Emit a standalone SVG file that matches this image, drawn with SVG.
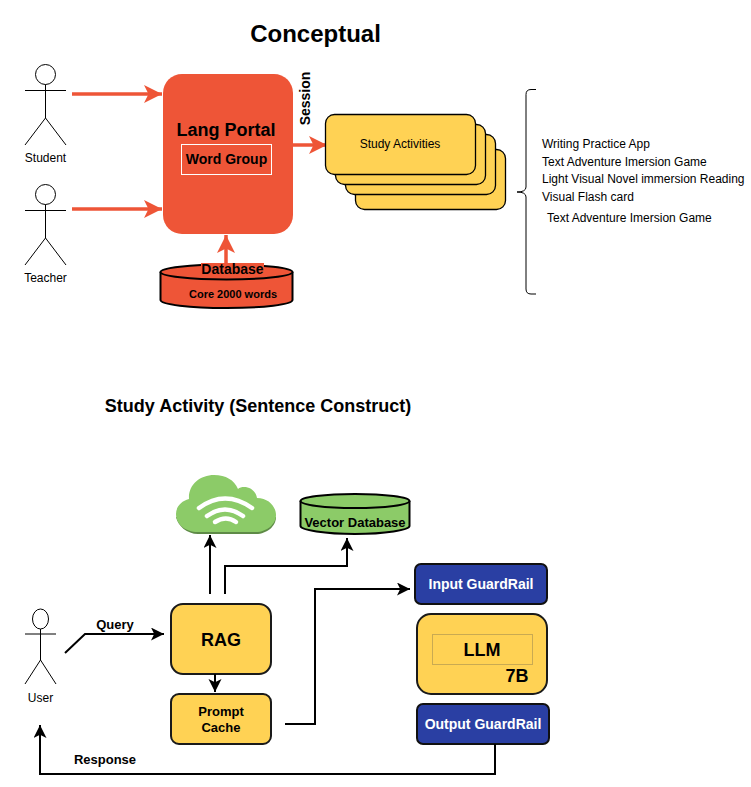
<svg xmlns="http://www.w3.org/2000/svg" width="751" height="787" viewBox="0 0 751 787">
<style>
text{font-family:"Liberation Sans",Arial,sans-serif;fill:#000;text-anchor:middle}
.b{font-weight:700}
.s{font-size:12px}
.l{font-size:12px;text-anchor:start}
.actor{fill:none;stroke:#000;stroke-width:1}
.card{fill:#ffd254;stroke:#000;stroke-width:1.300}
.red{stroke:#ee5537;stroke-width:3.500;fill:none}
.blk{stroke:#000;stroke-width:2;fill:none}
.yel{fill:#ffd254;stroke:#1a1a1a;stroke-width:2}
.blue{fill:#2a3fa3;stroke:#111;stroke-width:2}
.cyl{stroke:#000;stroke-width:2}
</style>
<defs>
<marker id="ra" markerUnits="userSpaceOnUse" markerWidth="20" markerHeight="20" refX="18" refY="9" orient="auto"><path d="M0,0 L18,9 L0,18 L4.500,9Z" fill="#ee5537"/></marker>
<marker id="ka" markerUnits="userSpaceOnUse" markerWidth="14" markerHeight="14" refX="13" refY="6.500" orient="auto"><path d="M0,0 L13,6.500 L0,13 L3.200,6.500Z" fill="#000"/></marker>
</defs>
<text id="title-conceptual" class="b" x="315.500" y="42" font-size="24">Conceptual</text>
<text id="title-study" class="b" x="258" y="412" font-size="18">Study Activity (Sentence Construct)</text>

<g id="student"><circle class="actor" cx="45.500" cy="74.500" r="10"/><path class="actor" d="M45.500,84.500V118M25,90.500H66M45.500,118L25,145M45.500,118L66,145"/><text class="s" x="45.500" y="162">Student</text></g>
<g id="teacher"><circle class="actor" cx="45.500" cy="194.500" r="10"/><path class="actor" d="M45.500,204.500V238M25,210.500H66M45.500,238L25,265M45.500,238L66,265"/><text class="s" x="45.500" y="282">Teacher</text></g>

<g id="lang-portal"><rect x="163" y="74" width="130" height="160" rx="19" fill="#ee5537"/><text class="b" x="226" y="136" font-size="18">Lang Portal</text></g>
<g id="word-group"><rect x="181.500" y="144.500" width="90" height="30" fill="none" stroke="#fff"/><text class="b" x="226.500" y="164" font-size="14">Word Group</text></g>

<g id="session-label"><text class="b" font-size="14" transform="translate(310,98.500) rotate(-90)">Session</text></g>

<g id="connectors-top">
<path class="red" d="M72,94H162" marker-end="url(#ra)"/>
<path class="red" d="M72,209H162" marker-end="url(#ra)"/>
<path class="red" d="M293,145H327" marker-end="url(#ra)"/>
<path class="red" d="M226,264V235" marker-end="url(#ra)"/>
</g>

<g id="database"><path class="cyl" fill="#ee5537" d="M160.500,272V300C160.500,304.500 190,308 226.500,308S292.500,304.500 292.500,300V272"/><ellipse class="cyl" fill="#ee5537" cx="226.500" cy="272" rx="66" ry="7.500"/>
<rect x="201" y="263" width="63" height="13" fill="#ee5537"/>
<text class="b" x="232.500" y="274" font-size="14">Database</text><text class="b" x="233" y="298" font-size="11">Core 2000 words</text></g>

<g id="study-activities">
<rect class="card" x="355.500" y="149.500" width="150" height="60" rx="9"/>
<rect class="card" x="345.500" y="134.500" width="150" height="60" rx="9"/>
<rect class="card" x="335.500" y="124.500" width="150" height="60" rx="9"/>
<rect class="card" x="325.500" y="114.500" width="150" height="60" rx="9"/>
<text class="s" x="400" y="148">Study Activities</text>
</g>

<g id="brace"><path fill="none" stroke="#000" stroke-width="1" d="M536,89.500H531Q526,89.500 526,94.500V187Q526,192 517,192Q526,192 526,197V289Q526,294 531,294H536"/></g>
<g id="activity-list">
<text class="l" x="542" y="148">Writing Practice App</text>
<text class="l" x="542" y="166">Text Adventure Imersion Game</text>
<text class="l" x="542" y="183">Light Visual Novel immersion Reading</text>
<text class="l" x="542" y="201">Visual Flash card</text>
<text class="l" x="547" y="222">Text Adventure Imersion Game</text>
</g>

<g id="cloud">
<path fill="#5e8a47" d="M176,517C178,526 187,534 198,534H256C267,534 276,526 276,517Z"/>
<path fill="#8ccb68" d="M189,499C188,485 200,475 214,475C226,475 234,480 238,489C243,485 255,487 257,498C269,498 276,507 276,515C276,524 267,532 256,532H198C185,532 176,524 176,514C176,507 181,501 189,499Z"/>
<g fill="none" stroke="#fff" stroke-width="4.500" stroke-linecap="round"><path d="M199,508Q225,489 252,508"/><path d="M207,516Q225,503 243,516"/><path d="M215,522Q226,515 236,522"/></g>
</g>
<g id="vector-database"><path class="cyl" fill="#8ccb68" d="M300.500,501V526C300.500,530 325,534 355,534S409.500,530 409.500,526V501"/><ellipse class="cyl" fill="#8ccb68" cx="355" cy="501" rx="54.500" ry="7"/><text class="b" x="355" y="527" font-size="13">Vector Database</text></g>

<g id="user"><ellipse class="actor" cx="40.500" cy="619" rx="8" ry="10"/><path class="actor" d="M40.500,629V660M25,634H56M40.500,660L25,684M40.500,660L56,684"/><text class="s" x="40.500" y="702">User</text></g>

<g id="rag"><rect class="yel" x="171" y="604" width="100" height="70" rx="12"/><text class="b" x="221" y="646" font-size="18">RAG</text></g>
<g id="prompt-cache"><rect class="yel" x="171" y="694" width="100" height="50" rx="8"/><text class="b" x="221" y="716" font-size="13">Prompt</text><text class="b" x="221" y="732" font-size="13">Cache</text></g>
<g id="input-guardrail"><rect class="blue" x="415" y="564" width="132" height="40" rx="6"/><text class="b" x="481" y="589" font-size="14" style="fill:#fff">Input GuardRail</text></g>
<g id="llm"><rect class="yel" x="417" y="614" width="130" height="80" rx="14"/><rect x="432.500" y="634.500" width="100" height="30" fill="none" stroke="#c9aa52"/><text class="b" x="482" y="656" font-size="18">LLM</text><text class="b" x="517" y="682" font-size="18">7B</text></g>
<g id="output-guardrail"><rect class="blue" x="417" y="704" width="132" height="40" rx="6"/><text class="b" x="483" y="729" font-size="14" style="fill:#fff">Output GuardRail</text></g>

<g id="connectors-bottom">
<path class="blk" d="M65,653L85,634H164" marker-end="url(#ka)"/>
<path class="blk" d="M210,594V535" marker-end="url(#ka)"/>
<path class="blk" d="M225,594V566H347V538" marker-end="url(#ka)"/>
<path class="blk" d="M215,674V692" marker-end="url(#ka)"/>
<path class="blk" d="M285,724H315V589H410" marker-end="url(#ka)"/>
<path class="blk" d="M495,744V774H40V725" marker-end="url(#ka)"/>
</g>
<text id="label-query" class="b" x="115" y="629" font-size="13">Query</text>
<text id="label-response" class="b" x="105" y="764" font-size="13">Response</text>
</svg>
